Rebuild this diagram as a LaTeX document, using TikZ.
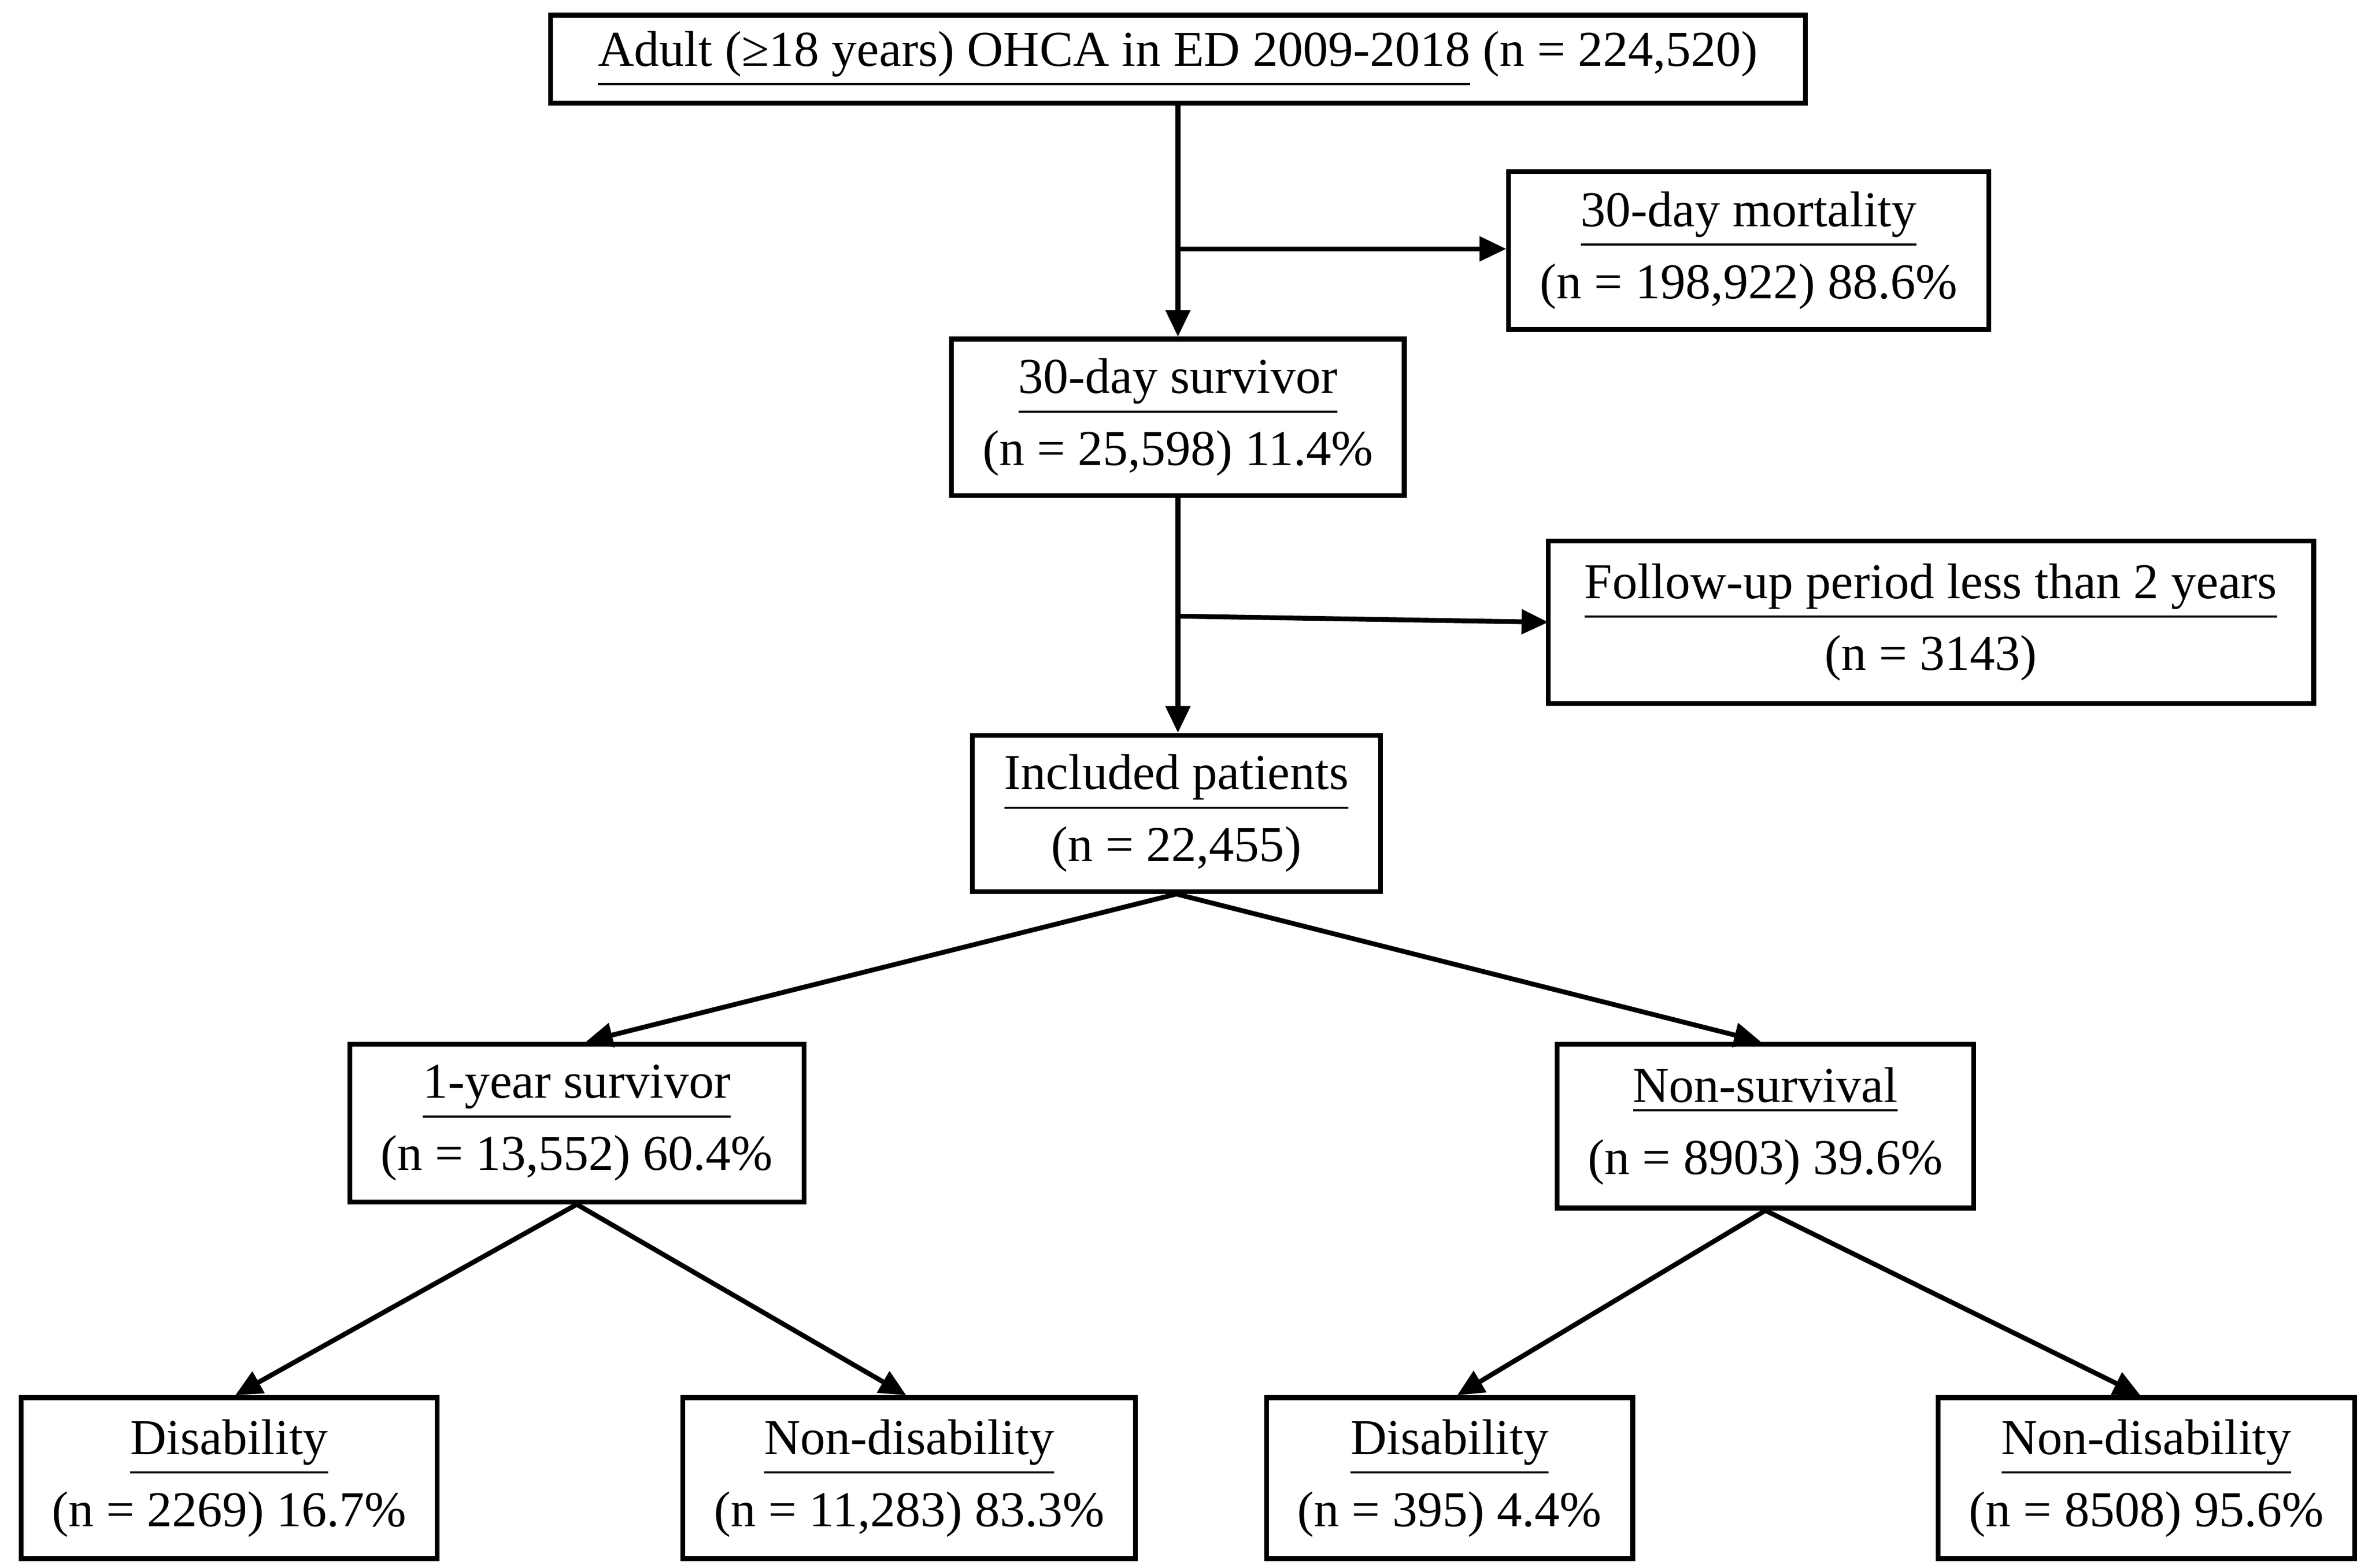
\documentclass[tikz,border=0pt]{standalone}
\usepackage{fontspec}
\setmainfont{Liberation Serif}
\usetikzlibrary{arrows.meta}
\begin{document}
\begin{tikzpicture}[x=0.01cm,y=-0.01cm,
 box/.style={draw,line width=0.9pt,align=center,inner sep=0pt,font=\fontsize{9.4}{13.5}\selectfont},
 arr/.style={line width=0.9pt,-{Triangle[length=5pt,width=4.5pt]}}]
\useasboundingbox (0,0) rectangle (1560,1033);
\node[box,minimum width=8.26cm,minimum height=0.58cm] (top) at (776,39) {\underline{Adult (≥18 years) OHCA in ED 2009-2018} (n = 224,520)};
\node[box,minimum width=3.16cm,minimum height=1.04cm] (mort) at (1152,165) {\underline{30-day mortality}\\(n = 198,922) 88.6\%};
\node[box,minimum width=2.98cm,minimum height=1.03cm] (surv) at (776,275) {\underline{30-day survivor}\\(n = 25,598) 11.4\%};
\node[box,minimum width=5.04cm,minimum height=1.07cm] (fu) at (1272,410) {\underline{Follow-up period less than 2 years}\\(n = 3143)};
\node[box,minimum width=2.69cm,minimum height=1.03cm] (inc) at (775,536) {\underline{Included patients}\\(n = 22,455)};
\node[box,minimum width=2.99cm,minimum height=1.04cm] (oy) at (380,740) {\underline{1-year survivor}\\(n = 13,552) 60.4\%};
\node[box,minimum width=2.74cm,minimum height=1.08cm] (ns) at (1163,742) {\underline{Non-survival}\\(n = 8903) 39.6\%};
\node[box,minimum width=2.74cm,minimum height=1.06cm] (d1) at (151,974) {\underline{Disability}\\(n = 2269) 16.7\%};
\node[box,minimum width=2.98cm,minimum height=1.06cm] (n1) at (599,974) {\underline{Non-disability}\\(n = 11,283) 83.3\%};
\node[box,minimum width=2.41cm,minimum height=1.06cm] (d2) at (955,974) {\underline{Disability}\\(n = 395) 4.4\%};
\node[box,minimum width=2.74cm,minimum height=1.06cm] (n2) at (1414,974) {\underline{Non-disability}\\(n = 8508) 95.6\%};
\coordinate (b1) at (776,164);
\coordinate (b2) at (776,406);
\coordinate (f2) at (1020,410);
\draw[arr] (top.south -| surv.north) -- (surv.north);
\draw[arr] (b1) -- (b1 -| mort.west);
\draw[arr] (surv.south) -- (inc.north -| surv.south);
\draw[arr] (b2) -- (f2);
\draw[arr] (inc.south) -- ([xshift=0.06cm]oy.north);
\draw[arr] (inc.south) -- ([xshift=-0.03cm]ns.north);
\draw[arr] (oy.south) -- ([xshift=0.04cm]d1.north);
\draw[arr] (oy.south) -- ([xshift=-0.02cm]n1.north);
\draw[arr] (ns.south) -- ([xshift=0.05cm]d2.north);
\draw[arr] (ns.south) -- ([xshift=-0.04cm]n2.north);
\end{tikzpicture}
\end{document}
